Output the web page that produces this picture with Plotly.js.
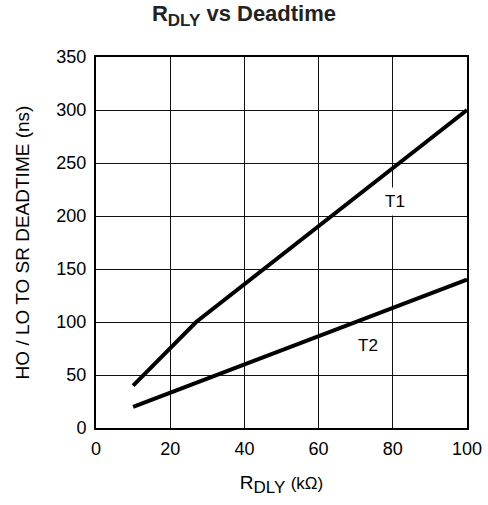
<!DOCTYPE html>
<html>
<head>
<meta charset="utf-8">
<script src="https://cdn.plot.ly/plotly-3.0.1.min.js"></script>
<style>html,body{margin:0;padding:0;background:#fff;}#chart{width:488px;height:505px;}</style>
</head>
<body>
<div id="chart"></div>
<script>
// Data
var t1X = [10, 27, 100];
var t1Y = [40, 100, 300];
var t2X = [10, 100];
var t2Y = [20, 140];
var seriesNames = ["T1", "T2"];
var labelX = [80.6, 73.3];
var labelY = [214, 78];
var xTicks = [0, 20, 40, 60, 80, 100];
var yTicks = [0, 50, 100, 150, 200, 250, 300, 350];

var FONT = "Liberation Sans, Arial, Helvetica, sans-serif";

var traces = [
  {x: t1X, y: t1Y, name: seriesNames[0], mode: "lines", line: {color: "#000", width: 4}},
  {x: t2X, y: t2Y, name: seriesNames[1], mode: "lines", line: {color: "#000", width: 4}}
];

var annotations = seriesNames.map(function (n, i) {
  return {x: labelX[i], y: labelY[i], xref: "x", yref: "y", text: n, showarrow: false,
          font: {family: FONT, size: 17, color: "#000"}, bgcolor: "#fff", borderpad: 4};
});

var layout = {
  width: 488, height: 505,
  margin: {l: 96, r: 21, t: 57, b: 77},
  paper_bgcolor: "#fff", plot_bgcolor: "#fff",
  showlegend: false,
  font: {family: FONT, size: 18, color: "#000"},
  title: {text: "<b>R<sub><span style='font-size:17px'>DLY</span></sub> vs Deadtime</b>",
          font: {family: FONT, size: 22, color: "#222"},
          x: 0.5, xanchor: "center", y: 0.988, yanchor: "top", yref: "container", pad: {t: 0, b: 0}},
  xaxis: {
    range: [0, 100], tickvals: xTicks, ticktext: xTicks.map(String),
    showgrid: true, gridcolor: "#111", gridwidth: 1,
    showline: true, linecolor: "#000", linewidth: 2, mirror: true,
    zeroline: false, ticks: "", ticklabelstandoff: 3,
    tickfont: {family: FONT, size: 18, color: "#000"},
    title: {text: "R<sub><span style='font-size:17px'>DLY</span></sub> <span style='font-size:17px'>(kΩ)</span>",
            font: {family: FONT, size: 19, color: "#000"}, standoff: 18}
  },
  yaxis: {
    range: [0, 350], tickvals: yTicks, ticktext: yTicks.map(String),
    showgrid: true, gridcolor: "#111", gridwidth: 1,
    showline: true, linecolor: "#000", linewidth: 2, mirror: true,
    zeroline: false, ticks: "", ticklabelstandoff: 4,
    tickfont: {family: FONT, size: 18, color: "#000"},
    title: {text: "HO / LO TO SR DEADTIME (ns)", font: {family: FONT, size: 19, color: "#000"}, standoff: 22}
  },
  annotations: annotations
};

Plotly.newPlot("chart", traces, layout, {displayModeBar: false, staticPlot: true});
</script>
</body>
</html>
